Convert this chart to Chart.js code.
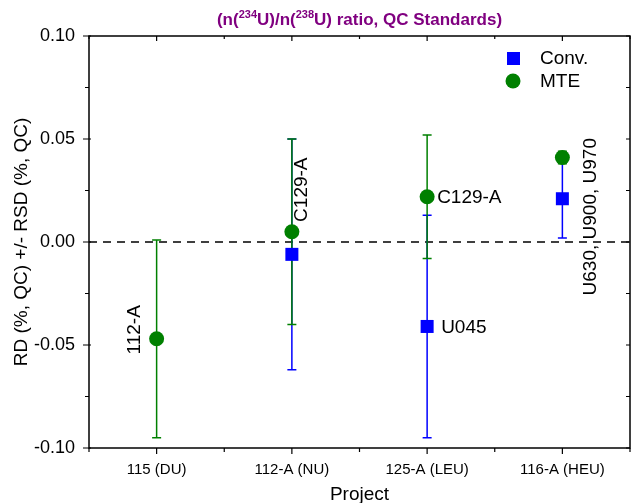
<!DOCTYPE html>
<html>
<head>
<meta charset="utf-8">
<script src="https://cdn.jsdelivr.net/npm/chart.js@4.4.1/dist/chart.umd.min.js"></script>
<style>
  body { margin: 0; background: #fff; }
  canvas { display: block; }
</style>
</head>
<body>
<canvas id="myChart" width="631" height="503"></canvas>
<script>
const categories = ["115 (DU)", "112-A (NU)", "125-A (LEU)", "116-A (HEU)"];
const convValues = [null, -0.006, -0.041, 0.021];
const convErrors = [null, 0.056, 0.054, 0.019];
const mteValues = [-0.047, 0.005, 0.022, 0.041];
const mteErrors = [0.048, 0.045, 0.030, 0.003];
const yTicks = [-0.10, -0.05, 0.00, 0.05, 0.10];

// text next to the points: [series, category index, text, rotated]
const pointLabels = [
  ["mte", 0, "112-A", true],
  ["mte", 1, "C129-A", true],
  ["mte", 2, "C129-A", false],
  ["conv", 2, "U045", false],
  ["conv", 3, "U630, U900, U970", true],
];

const FONT = "'Liberation Sans', Arial, sans-serif";

function toPoints(values) {
  let pts = [];
  values.forEach((v, i) => {
    if (v !== null) pts.push({ x: i, y: v });
  });
  return pts;
}

// error bars, zero line
const errorBars = {
  id: "errorBars",
  beforeDatasetsDraw(chart) {
    const ctx = chart.ctx;
    const xs = chart.scales.x;
    const ys = chart.scales.y;
    const area = chart.chartArea;

    ctx.save();
    ctx.strokeStyle = "#000";
    ctx.lineWidth = 1.5;
    ctx.setLineDash([8, 6]);
    const y0 = ys.getPixelForValue(0);
    ctx.beginPath();
    ctx.moveTo(area.left, y0);
    ctx.lineTo(area.right, y0);
    ctx.stroke();
    ctx.setLineDash([]);

    const sets = [
      [convValues, convErrors, "#0000ff"],
      [mteValues, mteErrors, "#008000"],
    ];
    sets.forEach(([vals, errs, color]) => {
      ctx.strokeStyle = color;
      ctx.lineWidth = 1.5;
      vals.forEach((v, i) => {
        if (v === null) return;
        const x = xs.getPixelForValue(i);
        const top = ys.getPixelForValue(v + errs[i]);
        const bot = ys.getPixelForValue(v - errs[i]);
        ctx.beginPath();
        ctx.moveTo(x, top);
        ctx.lineTo(x, bot);
        ctx.moveTo(x - 4.5, top);
        ctx.lineTo(x + 4.5, top);
        ctx.moveTo(x - 4.5, bot);
        ctx.lineTo(x + 4.5, bot);
        ctx.stroke();
      });
    });
    ctx.restore();
  },
};

// frame with ticks on all four sides, title, legend, point labels
const decorations = {
  id: "decorations",
  afterDatasetsDraw(chart) {
    const ctx = chart.ctx;
    const xs = chart.scales.x;
    const ys = chart.scales.y;
    const a = chart.chartArea;

    ctx.save();
    ctx.strokeStyle = "#000";
    ctx.lineWidth = 1.5;
    ctx.strokeRect(a.left, a.top, a.right - a.left, a.bottom - a.top);

    ctx.lineWidth = 1.2;
    ctx.beginPath();
    for (let v = -0.5; v <= 3.5; v += 0.5) {
      const x = xs.getPixelForValue(v);
      const major = Number.isInteger(v);
      ctx.moveTo(x, a.bottom);
      ctx.lineTo(x, a.bottom + (major ? 6 : 4));
      ctx.moveTo(x, a.top);
      ctx.lineTo(x, a.top + (major ? 5 : 3));
    }
    for (let k = -4; k <= 4; k++) {
      const y = ys.getPixelForValue(k * 0.025);
      const major = k % 2 === 0;
      ctx.moveTo(a.left - (major ? 6 : 4), y);
      ctx.lineTo(a.left + (major ? 2 : 0), y);
      ctx.moveTo(a.right, y);
      ctx.lineTo(a.right - 4, y);
    }
    ctx.stroke();

    // title with superscripts
    const parts = [
      ["(n(", false], ["234", true], ["U)/n(", false], ["238", true],
      ["U) ratio, QC Standards)", false],
    ];
    const big = "bold 17px " + FONT;
    const small = "bold 11px " + FONT;
    let width = 0;
    parts.forEach(([t, sup]) => {
      ctx.font = sup ? small : big;
      width += ctx.measureText(t).width;
    });
    let tx = (a.left + a.right) / 2 - width / 2;
    ctx.fillStyle = "#800080";
    ctx.textBaseline = "alphabetic";
    ctx.textAlign = "left";
    parts.forEach(([t, sup]) => {
      ctx.font = sup ? small : big;
      ctx.fillText(t, tx, sup ? 18 : 25);
      tx += ctx.measureText(t).width;
    });

    // legend
    ctx.font = "19px " + FONT;
    ctx.textBaseline = "middle";
    ctx.fillStyle = "#0000ff";
    ctx.fillRect(507, 52, 13, 13);
    ctx.fillStyle = "#008000";
    ctx.beginPath();
    ctx.arc(513, 81, 7.5, 0, Math.PI * 2);
    ctx.fill();
    ctx.fillStyle = "#000";
    ctx.fillText("Conv.", 540, 59);
    ctx.fillText("MTE", 540, 82);

    // point labels
    pointLabels.forEach(([series, i, text, rotated]) => {
      const v = series === "conv" ? convValues[i] : mteValues[i];
      const x = xs.getPixelForValue(i);
      const y = ys.getPixelForValue(v);
      ctx.save();
      if (rotated) {
        let dx, dy;
        if (series === "mte" && i === 0) { dx = -22; dy = -9; }
        else if (series === "mte" && i === 1) { dx = 10; dy = -42; }
        else { dx = 28; dy = 18; }
        ctx.translate(x + dx, y + dy);
        ctx.rotate(-Math.PI / 2);
        ctx.textAlign = "center";
        ctx.fillText(text, 0, 0);
      } else {
        ctx.textAlign = "left";
        ctx.fillText(text, x + (series === "conv" ? 14 : 10), y + 1);
      }
      ctx.restore();
    });
    ctx.restore();
  },
};

function chartJs() {
  const ctx = document.getElementById("myChart");

  new Chart(ctx, {
    type: "scatter",
    data: {
      datasets: [
        {
          label: "Conv.",
          data: toPoints(convValues),
          pointStyle: "rect",
          pointRadius: 9.2,
          backgroundColor: "#0000ff",
          borderColor: "#0000ff",
          borderWidth: 0,
        },
        {
          label: "MTE",
          data: toPoints(mteValues),
          pointStyle: "circle",
          pointRadius: 7.5,
          backgroundColor: "#008000",
          borderColor: "#008000",
          borderWidth: 0,
        },
      ],
    },
    options: optionsOfChart,
    plugins: [errorBars, decorations],
  });
}

let optionsOfChart = {
  responsive: false,
  animation: false,
  events: [],
  layout: {
    autoPadding: false,
    padding: { top: 36, right: 1, left: 0, bottom: 0 },
  },
  scales: {
    x: {
      type: "linear",
      min: -0.5,
      max: 3.5,
      afterBuildTicks: (scale) => {
        scale.ticks = categories.map((c, i) => ({ value: i }));
      },
      afterFit: (scale) => {
        scale.height = 55;
        scale.paddingLeft = 0;
        scale.paddingRight = 0;
      },
      grid: { display: false },
      border: { display: false },
      ticks: {
        color: "#000",
        font: { family: FONT, size: 15 },
        padding: 5,
        maxRotation: 0,
        autoSkip: false,
        callback: (value) => categories[value],
      },
      title: {
        display: true,
        text: "Project",
        color: "#000",
        font: { family: FONT, size: 19 },
        padding: { top: 0, bottom: -3 },
      },
    },
    y: {
      min: -0.1,
      max: 0.1,
      afterBuildTicks: (scale) => {
        scale.ticks = yTicks.map((v) => ({ value: v }));
      },
      afterFit: (scale) => {
        scale.width = 89;
      },
      grid: { display: false },
      border: { display: false },
      ticks: {
        color: "#000",
        font: { family: FONT, size: 18 },
        padding: 6,
        callback: (value) => value.toFixed(2),
      },
      title: {
        display: true,
        text: "RD (%, QC) +/- RSD (%, QC)",
        color: "#000",
        font: { family: FONT, size: 19 },
        padding: { top: 10, bottom: 2 },
      },
    },
  },
  plugins: {
    legend: { display: false },
    tooltip: { enabled: false },
  },
};

chartJs();
</script>
</body>
</html>
